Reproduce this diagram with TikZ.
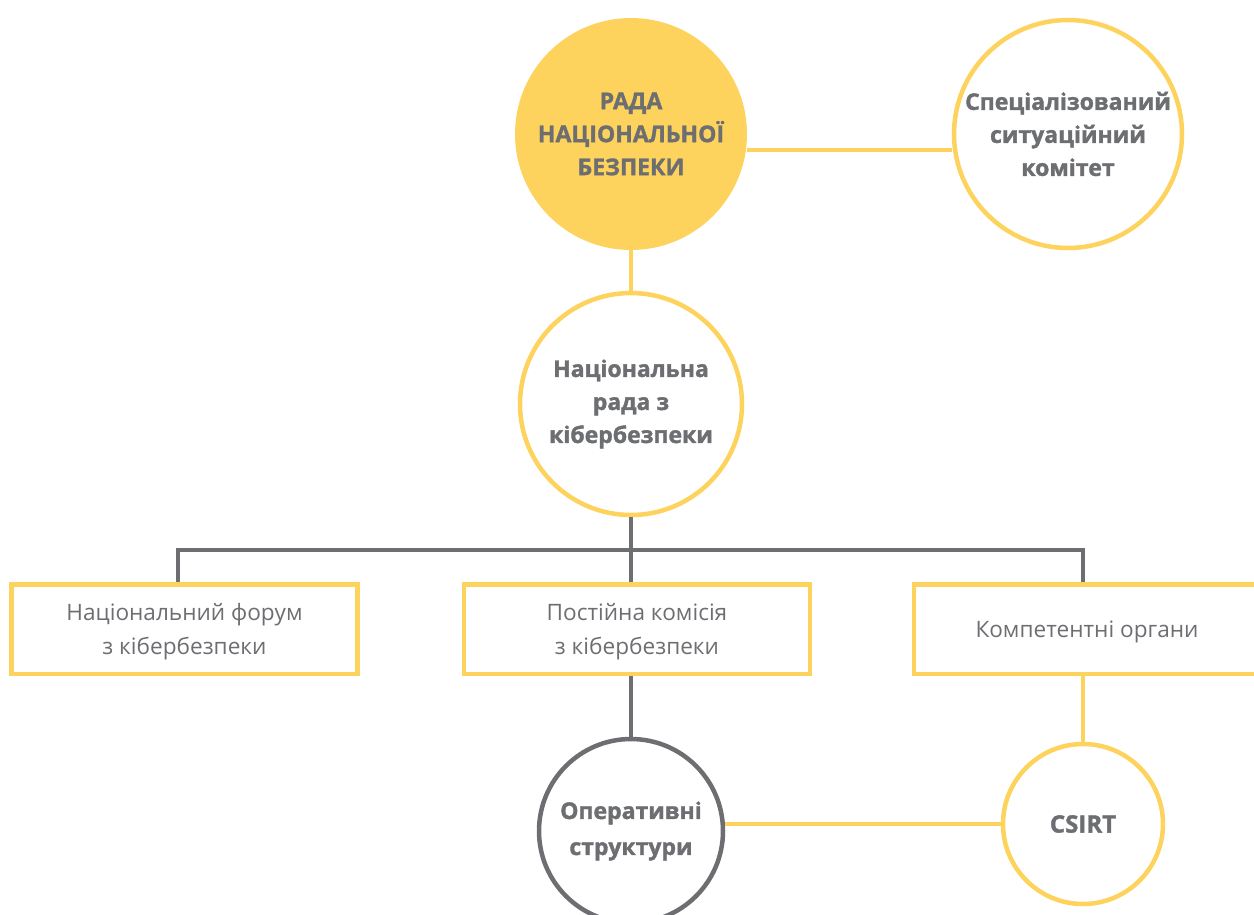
\documentclass[tikz,border=0pt]{standalone}
\usepackage{fontspec}
\setmainfont{Open Sans}
\newfontfamily\heavyfont{Open Sans}[FakeBold=1.5]
\definecolor{ylw}{HTML}{FDD35D}
\definecolor{gry}{HTML}{6D6E71}
\begin{document}
\begin{tikzpicture}[x=1pt,y=-1pt,
  circ/.style={circle,inner sep=0pt,align=center,text=gry,font=\heavyfont\bfseries\fontsize{23}{33}\selectfont},
  ycirc/.style={circ,draw=ylw,line width=4.5pt,fill=white},
  gcirc/.style={circ,draw=gry,line width=4.5pt,fill=white},
  boxn/.style={draw=ylw,line width=4.5pt,minimum width=346pt,minimum height=89.5pt,inner sep=0pt},
  btext/.style={yshift=-3pt,text=gry,align=center,font=\fontsize{22.6}{34}\selectfont},
  yl/.style={draw=ylw,line width=4.5pt},
  gl/.style={draw=gry,line width=4.5pt}]
\useasboundingbox (0,0) rectangle (1254,914);
% nodes
\node[circ,fill=ylw,minimum size=232pt] (rada) at (631,134) {РАДА\\НАЦІОНАЛЬНОЇ\\БЕЗПЕКИ};
\node[ycirc,minimum size=228pt] (spec) at (1068,134) {Спеціалізований\\ситуаційний\\комітет};
\node[ycirc,minimum size=222pt] (ncb) at (631,404) {Національна\\рада з\\кібербезпеки};
\node[boxn] (forum) at (184.5,629) {};
\node[btext] (forumt) at (forum) {Національний форум\\з кібербезпеки};
\node[boxn] (kom) at (637,629) {};
\node[btext] (komt) at (kom) {Постійна комісія\\з кібербезпеки};
\node[boxn] (org) at (1087,629) {};
\node[btext] (orgt) at (org) {Компетентні органи};
\node[gcirc,minimum size=184pt,font=\heavyfont\bfseries\fontsize{23}{36}\selectfont] (op) at (631,831) {Оперативні\\структури};
\node[ycirc,minimum size=160pt,font=\heavyfont\bfseries\fontsize{24}{33}\selectfont] (csirt) at (1083,824) {CSIRT};
% connectors
\coordinate (jl) at (178,550);
\coordinate (jm) at (631,550);
\coordinate (jr) at (1083,550);
\draw[yl] ([yshift=-16pt]rada.east) -- ([yshift=-16pt]spec.west);
\draw[yl] (rada.south) -- (ncb.north);
\draw[gl] (ncb.south) -- (jm);
\draw[gl] (jl |- forum.north) -- (jl) -- (jr) -- (jr |- org.north);
\draw[gl] (jm) -- (jm |- kom.north);
\draw[gl] (kom.south -| op.north) -- (op.north);
\draw[yl] (org.south -| csirt.north) -- (csirt.north);
\draw[yl] (op.east |- csirt.west) -- (csirt.west);
\end{tikzpicture}
\end{document}
